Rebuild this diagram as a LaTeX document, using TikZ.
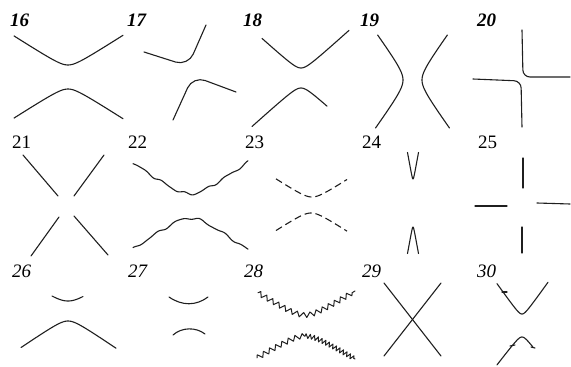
\documentclass[tikz,border=0pt]{standalone}
\usepackage{fontspec}
\setmainfont{Liberation Serif}
\usetikzlibrary{decorations.pathmorphing}
% vertical hyperbola: x0,y0,xa,xb,k,b,sign
\newcommand\hyv[8][]{\draw[curve,#1] plot[domain=#4:#5,samples=61,variable=\t]
  ({#2+\t},{#3+(#8)*(sqrt((#7)*(#7)+((#6)*\t)*((#6)*\t))-(#7))});}
% horizontal hyperbola: x0,y0,ya,yb,k,b,sign
\newcommand\hyh[8][]{\draw[curve,#1] plot[domain=#4:#5,samples=61,variable=\t]
  ({#2+(#8)*(sqrt((#7)*(#7)+((#6)*\t)*((#6)*\t))-(#7))},{#3+\t});}
\begin{document}
\begin{tikzpicture}[x=1pt,y=-1pt,
  curve/.style={line width=1.1pt,color=black!88,line cap=round,line join=round},
  lab/.style={inner sep=0pt,anchor=base west,font=\fontsize{19}{22}\selectfont},
  labi/.style={lab,font=\fontsize{19}{22}\selectfont\itshape},
  labb/.style={lab,font=\fontsize{19}{22}\selectfont\bfseries\itshape}]
\useasboundingbox (0,0) rectangle (571,367);
% labels
\node[labb] (l16) at (10,26) {16};
\node[labb] (l17) at (127,26) {17};
\node[labb] (l18) at (243,26) {18};
\node[labb] (l19) at (360,26) {19};
\node[labb] (l20) at (477,26) {20};
\node[lab] (l21) at (12,148) {21};
\node[lab] (l22) at (128,148) {22};
\node[lab] (l23) at (245,148) {23};
\node[lab] (l24) at (362,148) {24};
\node[lab] (l25) at (478,148) {25};
\node[labi] (l26) at (12,277) {26};
\node[labi] (l27) at (128,277) {27};
\node[labi] (l28) at (244,277) {28};
\node[labi] (l29) at (362,277) {29};
\node[labi] (l30) at (477,277) {30};
% 16
\hyv{68}{65}{-54}{55}{0.64}{6}{-1}
\hyv{68}{89}{-54}{55}{0.64}{6}{1}
% 17
\draw[curve,rounded corners=13pt] (144,52) -- (188,66) -- (206,25);
\draw[curve,rounded corners=13pt] (173,120) -- (193,76) -- (236,92);
% 18
\hyv{301}{68}{-39}{48}{0.9}{6}{-1}
\hyv{301}{88}{-49}{26}{0.9}{6}{1}
% 19
\hyh{403}{80}{-45}{48}{0.72}{8}{-1}
\hyh{422}{80}{-45}{48}{0.72}{8}{1}
% 20
\draw[curve,rounded corners=7pt] (522,30) -- (523,77) -- (570,77);
\draw[curve,rounded corners=7pt] (473,79) -- (521,81) -- (522,127);
% 21
\draw[curve] (23,155) -- (58,196);
\draw[curve] (104,155) -- (74,196);
\draw[curve] (59,217) -- (31,256);
\draw[curve] (74,216) -- (108,255);
% 22
\draw[curve] plot[domain=-57:58,samples=150,smooth,variable=\t]
  ({190+\t},{194-(sqrt(100+(0.7*\t)*(0.7*\t))-10)+1.1*sin(17*\t)+0.4*sin(29*\t+60)});
\draw[curve] plot[domain=-57:58,samples=150,smooth,variable=\t]
  ({190+\t},{218+(sqrt(100+(0.7*\t)*(0.7*\t))-10)+1.1*sin(16*\t+100)+0.4*sin(27*\t+20)});
% 23
\hyv[dash pattern=on 7pt off 4pt,line cap=butt]{312}{197}{-36}{35}{0.65}{6}{-1}
\hyv[dash pattern=on 7pt off 4pt,line cap=butt]{311}{213}{-35}{36}{0.65}{6}{1}
% 24
\hyv{413}{179}{-5.5}{5.5}{5.5}{4}{-1}
\hyv{413}{227}{-5.5}{5.5}{5.5}{4}{1}
% 25
\draw[curve] (523,158) -- (523,188);
\draw[curve] (475,206) -- (507,206);
\draw[curve] (537,203) -- (570,204);
\draw[curve] (522,227) -- (522,253);
% 26
\hyv{68}{301}{-16}{15}{0.7}{10}{-1}
\hyv{68}{321}{-47}{48}{0.68}{6}{1}
% 27
\draw[curve] (169,297) .. controls (182,306) and (196,306) .. (208,297);
\draw[curve] (173,335) .. controls (182,327) and (196,327) .. (205,334);
% 28
\draw[curve,line width=1pt,decorate,decoration={zigzag,segment length=7pt,amplitude=2.5pt}]
  plot[domain=-47:50,samples=60,variable=\t] ({305+\t},{315-(sqrt(64+(0.62*\t)*(0.62*\t))-8)});
\draw[curve,line width=1pt,decorate,decoration={zigzag,segment length=7pt,amplitude=2.5pt}]
  plot[domain=-48:0,samples=40,variable=\t] ({305+\t},{336+(sqrt(64+(0.6*\t)*(0.6*\t))-8)});
\draw[curve,line width=1pt,decorate,decoration={zigzag,segment length=4pt,amplitude=2.3pt}]
  plot[domain=0:50,samples=40,variable=\t] ({305+\t},{336+(sqrt(64+(0.6*\t)*(0.6*\t))-8)});
% 29
\draw[curve] (384,283) -- (441,356);
\draw[curve] (441,283) -- (384,356);
% 30
\hyv{522}{314}{-25}{26}{1.4}{5}{-1}
\draw[curve] (502,292) -- (507,292);
\hyv{522}{337}{-25}{11}{1.3}{5}{1}
\draw[curve] (510,346) -- (515,345);
\draw[curve] (531,347) -- (535,348);
\end{tikzpicture}
\end{document}
